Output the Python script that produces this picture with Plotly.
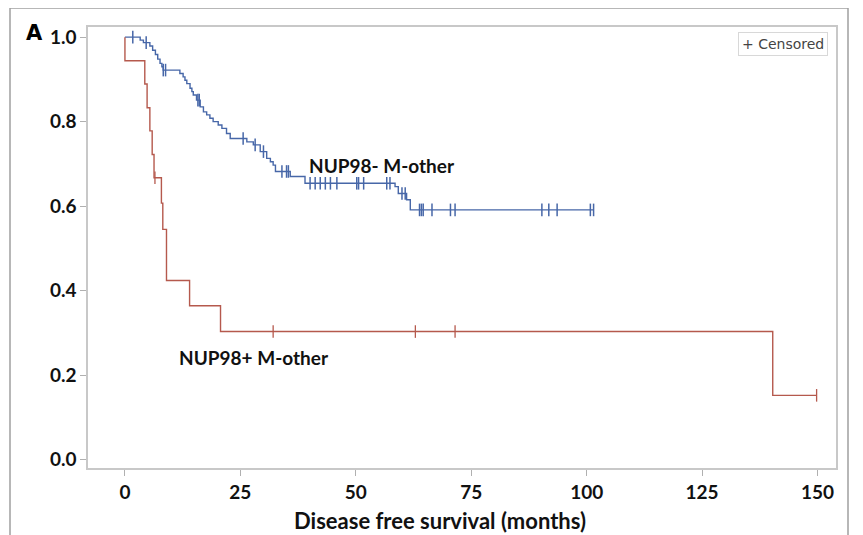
import plotly.graph_objects as go

# NUP98- M-other (blue) Kaplan-Meier steps
neg_time = [0, 3.3, 4.0, 5.4, 6.0, 6.6, 7.1, 7.6, 8.0, 8.3, 11.9, 12.6, 13.0, 13.4, 14.1, 14.5, 14.8, 15.5,
            16.3, 17.0, 17.7, 18.4, 19.1, 20.2, 21.0, 22.0, 22.8, 26.4, 27.8, 29.3, 30.7, 31.5, 32.1, 32.6,
            35.8, 39.0, 58.5, 59.2, 61.0, 61.8, 101.5]
neg_surv = [1.0, 0.993, 0.987, 0.979, 0.969, 0.959, 0.948, 0.938, 0.930, 0.922, 0.914, 0.906, 0.898, 0.890,
            0.879, 0.871, 0.863, 0.851, 0.835, 0.823, 0.816, 0.808, 0.800, 0.792, 0.784, 0.772, 0.760, 0.752,
            0.745, 0.729, 0.713, 0.705, 0.697, 0.682, 0.670, 0.654, 0.646, 0.630, 0.615, 0.591, 0.591]
neg_cens_time = [1.7, 4.6, 8.3, 8.8, 15.8, 16.1, 25.6, 28.2, 30.0, 34.0, 35.0, 35.4, 40.1, 41.2, 42.3, 43.4,
                 44.5, 45.9, 50.2, 50.6, 51.7, 56.7, 57.4, 60.0, 60.7, 63.8, 64.2, 64.6, 66.5, 70.5, 71.5,
                 90.3, 91.8, 93.6, 100.8, 101.5]
neg_cens_surv = [1.0, 0.987, 0.922, 0.922, 0.851, 0.851, 0.760, 0.745, 0.729, 0.682, 0.682, 0.682, 0.654,
                 0.654, 0.654, 0.654, 0.654, 0.654, 0.654, 0.654, 0.654, 0.654, 0.654, 0.630, 0.630, 0.591,
                 0.591, 0.591, 0.591, 0.591, 0.591, 0.591, 0.591, 0.591, 0.591, 0.591]

# NUP98+ M-other (red)
pos_time = [0, 0, 4.3, 4.8, 5.4, 5.9, 6.3, 7.9, 8.2, 9.0, 14.0, 20.7, 140.3, 149.8]
pos_surv = [1.0, 0.944, 0.889, 0.833, 0.778, 0.722, 0.667, 0.607, 0.545, 0.424, 0.364, 0.303, 0.152, 0.152]
pos_cens_time = [6.5, 32.1, 62.9, 71.5, 149.8]
pos_cens_surv = [0.667, 0.303, 0.303, 0.303, 0.152]

x_ticks = [0, 25, 50, 75, 100, 125, 150]
y_ticks = [0.0, 0.2, 0.4, 0.6, 0.8, 1.0]

BLUE = "#4767A8"
RED = "#B5594D"
FONT = "Lato"

fig = go.Figure()
fig.add_trace(go.Scatter(x=neg_time, y=neg_surv, mode="lines", line=dict(color=BLUE, width=1.4, shape="hv"),
                         showlegend=False, hoverinfo="skip"))
fig.add_trace(go.Scatter(x=neg_cens_time, y=neg_cens_surv, mode="markers",
                         marker=dict(symbol="line-ns", size=9, line=dict(color=BLUE, width=1.5)),
                         showlegend=False))
fig.add_trace(go.Scatter(x=pos_time, y=pos_surv, mode="lines", line=dict(color=RED, width=1.4, shape="hv"),
                         showlegend=False, hoverinfo="skip"))
fig.add_trace(go.Scatter(x=pos_cens_time, y=pos_cens_surv, mode="markers",
                         marker=dict(symbol="line-ns", size=9, line=dict(color=RED, width=1.3)),
                         showlegend=False))

axis_common = dict(showgrid=False, zeroline=False, showline=True, linecolor="#C8C8C8", linewidth=1.5,
                   mirror=True, ticks="outside", ticklen=6, tickcolor="#B0B0B0", tickwidth=1,
                   tickfont=dict(family=FONT, size=19, color="#111111"))

fig.update_xaxes(range=[-8, 154], tickvals=x_ticks, ticktext=[f"<b>{v}</b>" for v in x_ticks], **axis_common)
fig.update_yaxes(range=[-0.02, 1.024], tickvals=y_ticks, ticktext=[f"<b>{v:.1f}</b>" for v in y_ticks],
                 **axis_common)

# page body has an 8px margin, so the figure is 8px smaller than the window
fig.update_layout(
    width=855, height=527,
    margin=dict(l=80, r=27, t=19, b=67),
    paper_bgcolor="white", plot_bgcolor="white",
    font=dict(family=FONT, color="#111111"),
    annotations=[
        dict(text="<b>NUP98- M-other</b>", x=39.5, y=0.695, xref="x", yref="y", xanchor="left",
             yanchor="middle", showarrow=False, font=dict(family=FONT, size=19, color="#111111")),
        dict(text="<b>NUP98+ M-other</b>", x=11.3, y=0.241, xref="x", yref="y", xanchor="left",
             yanchor="middle", showarrow=False, font=dict(family=FONT, size=19, color="#111111")),
        dict(text="<b>Disease free survival (months)</b>", x=(440 - 88) / 748, y=(468 - 520) / 441,
             xref="paper", yref="paper", xanchor="center", yanchor="middle", showarrow=False,
             font=dict(family=FONT, size=22, color="#111111")),
        dict(text="<b>A</b>", x=(34 - 88) / 748, y=(468 - 33) / 441, xref="paper", yref="paper",
             xanchor="center", yanchor="middle", showarrow=False,
             font=dict(family="DejaVu Sans", size=21, color="#000000")),
        dict(text="+ Censored", x=(828 - 88) / 748, y=(468 - 32) / 441, xref="paper", yref="paper",
             xanchor="right", yanchor="top", showarrow=False, bordercolor="#D8D8D8", borderwidth=1,
             borderpad=3, bgcolor="white", font=dict(family="DejaVu Sans", size=14, color="#444444")),
    ],
    shapes=[
        dict(type="rect", xref="paper", yref="paper", x0=(10 - 88) / 748, x1=(848 - 88) / 748,
             y0=(468 - 560) / 441, y1=(468 - 8) / 441, line=dict(color="#A0A0A0", width=1.5),
             fillcolor="rgba(0,0,0,0)", layer="below"),
    ],
)

fig.write_html("out.html")
